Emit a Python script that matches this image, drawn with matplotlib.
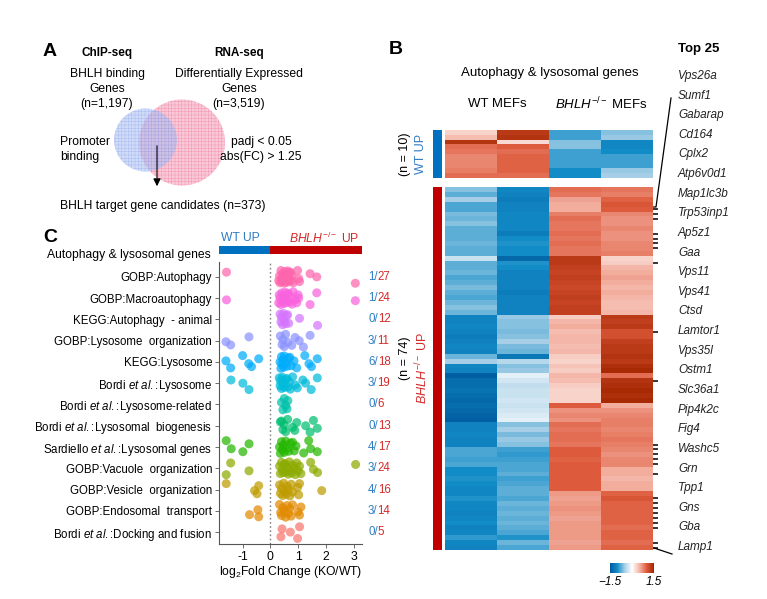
import numpy as np
import matplotlib
matplotlib.use('Agg')
import matplotlib.pyplot as plt
import matplotlib.transforms as mtransforms
from matplotlib.colors import LinearSegmentedColormap
from matplotlib.patches import Circle, Rectangle

plt.rcParams['font.family'] = ['Liberation Sans', 'DejaVu Sans']
plt.rcParams['mathtext.fontset'] = 'custom'
plt.rcParams['mathtext.rm'] = 'Liberation Sans'
plt.rcParams['mathtext.it'] = 'Liberation Sans:italic'
plt.rcParams['mathtext.bf'] = 'Liberation Sans:bold'
plt.rcParams['hatch.linewidth'] = 0.35

# ---------------- DATA ----------------
# Panel C categories (top to bottom)
categories = [
    "GOBP:Autophagy", "GOBP:Macroautophagy", "KEGG:Autophagy  - animal",
    "GOBP:Lysosome  organization", "KEGG:Lysosome", r"Bordi $\mathit{et\ al.}$:Lysosome",
    r"Bordi $\mathit{et\ al.}$:Lysosome-related", r"Bordi $\mathit{et\ al.}$:Lysosomal  biogenesis",
    r"Sardiello $\mathit{et\ al.}$:Lysosomal genes", "GOBP:Vacuole  organization",
    "GOBP:Vesicle  organization", "GOBP:Endosomal  transport",
    r"Bordi $\mathit{et\ al.}$:Docking and fusion",
]
cat_colors = ["#FF65AC", "#F962DD", "#D575FE", "#8B93FF", "#00ACFC", "#00BBDA",
              "#00C1AB", "#00BE70", "#24B700", "#8CAB00", "#BE9C00", "#E18A00", "#F8766D"]

wt_up_lfc = [
    [-1.58],
    [-1.58],
    [],
    [-1.6, -1.43, -0.77],
    [-1.6, -1.43, -1.0, -0.78, -0.68, -0.42],
    [-1.42, -0.99, -0.77],
    [],
    [],
    [-1.59, -1.41, -0.99, -0.77],
    [-1.59, -1.43, -0.77],
    [-1.59, -0.57, -0.48, -0.42],
    [-0.75, -0.45, -0.42],
    [],
]
ko_up_lfc = [
    [0.3, 0.33, 0.35, 0.38, 0.4, 0.42, 0.44, 0.46, 0.5, 0.52, 0.55, 0.58, 0.6, 0.62,
     0.64, 0.66, 0.7, 0.72, 0.75, 0.78, 0.82, 0.98, 1.02, 1.05, 1.43, 1.67, 3.06],
    [0.3, 0.32, 0.35, 0.38, 0.41, 0.44, 0.47, 0.5, 0.53, 0.56, 0.6, 0.62, 0.65, 0.7,
     0.74, 0.78, 0.82, 0.9, 0.95, 1.0, 1.02, 1.43, 1.67, 3.06],
    [0.35, 0.38, 0.4, 0.44, 0.47, 0.5, 0.55, 0.58, 0.62, 0.66, 1.05, 1.7],
    [0.36, 0.42, 0.45, 0.5, 0.55, 0.63, 0.77, 0.89, 1.04, 1.19, 1.43],
    [0.35, 0.38, 0.4, 0.42, 0.45, 0.48, 0.5, 0.55, 0.6, 0.65, 0.7, 0.75, 0.85, 0.95,
     1.24, 1.39, 1.48, 1.69],
    [0.32, 0.35, 0.37, 0.4, 0.43, 0.46, 0.5, 0.55, 0.6, 0.63, 0.68, 0.72, 0.8, 0.9,
     0.97, 1.17, 1.27, 1.47, 1.69],
    [0.4, 0.45, 0.5, 0.55, 0.6, 0.63],
    [0.36, 0.4, 0.45, 0.5, 0.55, 0.62, 0.8, 0.88, 0.95, 1.27, 1.43, 1.55, 1.69],
    [0.33, 0.36, 0.4, 0.43, 0.47, 0.5, 0.55, 0.6, 0.66, 0.72, 0.8, 0.86, 0.92, 1.2,
     1.38, 1.45, 1.69],
    [0.33, 0.36, 0.4, 0.43, 0.46, 0.5, 0.53, 0.56, 0.6, 0.64, 0.68, 0.72, 0.76, 0.8,
     0.85, 0.9, 0.95, 1.0, 1.05, 1.1, 1.45, 1.55, 1.7, 3.07],
    [0.33, 0.36, 0.4, 0.44, 0.48, 0.52, 0.56, 0.6, 0.65, 0.7, 0.75, 0.8, 0.98, 1.02,
     1.05, 1.85],
    [0.33, 0.37, 0.4, 0.45, 0.5, 0.55, 0.6, 0.65, 0.7, 0.75, 0.8, 1.0, 1.05, 1.1],
    [0.38, 0.42, 0.72, 0.98, 1.05],
]
wt_up_counts = [1, 1, 0, 3, 6, 3, 0, 0, 4, 3, 4, 3, 0]
ko_up_counts = [27, 24, 12, 11, 18, 19, 6, 13, 17, 24, 16, 14, 5]
x_ticks = [-1, 0, 1, 2, 3]

# Panel B heatmap (columns: WT1, WT2, KO1, KO2)
heat_wt_up = np.array([
    [0.3, 1.3, -0.85, -0.6],
    [0.45, 1.35, -0.85, -0.55],
    [1.35, 0.25, -0.6, -1.05],
    [0.9, 1.0, -0.6, -1.05],
    [0.85, 0.9, -0.85, -1.0],
    [0.75, 0.95, -0.85, -0.85],
    [0.75, 0.95, -0.85, -0.85],
    [0.75, 0.95, -0.85, -0.85],
    [0.8, 0.95, -1.0, -0.55],
    [0.9, 0.9, -1.0, -0.5],
])
heat_ko_up = np.array([
    [-0.6, -1.05, 0.9, 0.85], [-0.75, -1.1, 0.85, 0.8], [-0.5, -1.15, 0.6, 0.95],
    [-0.8, -1.1, 0.55, 1.05], [-0.8, -1.1, 0.55, 1.0], [-0.65, -1.05, 0.8, 0.75],
    [-0.7, -1.05, 0.9, 0.7], [-0.6, -1.05, 0.85, 0.7], [-0.75, -1.05, 0.85, 0.75],
    [-0.75, -1.15, 0.9, 0.7], [-0.75, -1.0, 0.85, 0.7], [-0.7, -0.95, 0.9, 0.75],
    [-0.75, -1.0, 0.85, 0.75], [-0.75, -1.0, 0.85, 0.8], [-0.3, -1.35, 1.3, 0.3],
    [-0.75, -0.95, 1.3, 0.35], [-0.75, -1.0, 1.25, 0.5], [-0.7, -1.1, 1.2, 0.55],
    [-0.8, -1.1, 1.25, 0.6], [-0.75, -1.1, 1.2, 0.55], [-0.65, -1.1, 1.15, 0.5],
    [-0.75, -1.15, 1.2, 0.55], [-0.8, -1.1, 1.25, 0.5], [-0.7, -1.1, 1.2, 0.45],
    [-0.6, -1.1, 1.25, 0.45], [-0.7, -1.1, 1.25, 0.5], [-1.1, -0.55, 0.35, 1.3],
    [-1.1, -0.6, 0.5, 1.25], [-1.05, -0.6, 0.55, 1.3], [-1.1, -0.65, 0.45, 1.1],
    [-1.15, -0.6, 0.5, 1.1], [-1.1, -0.5, 0.5, 1.25], [-1.05, -0.65, 0.45, 1.3],
    [-1.1, -0.7, 0.5, 1.3], [-0.7, -1.2, 0.35, 1.35], [-0.5, -0.4, 0.3, 1.3],
    [-1.05, -0.6, 0.4, 1.4], [-1.1, -0.55, 0.35, 1.45], [-1.45, -0.15, 0.5, 0.9],
    [-1.3, -0.25, 0.45, 1.35], [-1.3, -0.35, 0.35, 1.4], [-1.25, -0.3, 0.3, 1.45],
    [-1.3, -0.3, 0.3, 1.4], [-1.35, -0.25, 0.3, 1.45], [-1.3, -0.3, 1.0, 0.55],
    [-1.35, -0.25, 0.7, 0.7], [-1.4, -0.2, 0.75, 0.75], [-1.45, -0.15, 0.7, 0.8],
    [-1.1, -0.6, 0.9, 0.8], [-1.1, -0.5, 0.85, 0.75], [-1.05, -0.65, 0.9, 0.8],
    [-1.1, -0.55, 0.9, 0.85], [-1.1, -0.6, 0.85, 0.8], [-0.8, -0.85, 1.0, 0.75],
    [-0.8, -0.9, 1.0, 0.7], [-0.85, -0.85, 0.95, 0.75], [-0.8, -0.8, 1.0, 0.75],
    [-1.0, -0.8, 1.0, 0.55], [-1.0, -0.75, 1.0, 0.55], [-0.95, -0.85, 1.0, 0.5],
    [-1.0, -0.8, 1.0, 0.55], [-1.05, -0.75, 1.0, 0.55], [-1.05, -0.75, 0.65, 0.95],
    [-0.95, -0.8, 0.6, 1.05], [-1.05, -0.7, 0.65, 0.95], [-1.05, -0.75, 0.7, 0.95],
    [-1.1, -0.7, 0.65, 0.95], [-1.05, -0.75, 0.6, 0.95], [-1.0, -0.7, 0.65, 0.95],
    [-1.1, -0.75, 0.65, 0.9], [-1.05, -0.8, 0.65, 0.95], [-0.9, -0.95, 0.65, 0.95],
    [-1.05, -0.7, 0.6, 0.9], [-1.1, -0.8, 0.65, 0.95],
])
top25_genes = ["Vps26a", "Sumf1", "Gabarap", "Cd164", "Cplx2", "Atp6v0d1", "Map1lc3b",
               "Trp53inp1", "Ap5z1", "Gaa", "Vps11", "Vps41", "Ctsd", "Lamtor1", "Vps35l",
               "Ostm1", "Slc36a1", "Pip4k2c", "Fig4", "Washc5", "Grn", "Tpp1", "Gns",
               "Gba", "Lamp1"]
top25_rows = [4, 5, 6, 9, 10, 11, 12, 15, 29, 39, 52, 53, 54, 55, 56, 58, 63, 64, 65,
              66, 67, 68, 69, 72, 73]

# ---------------- STYLE ----------------
BLUE = "#0070c0"
RED = "#c00000"
TXT_BLUE = "#2f7dc4"
TXT_RED = "#d42a2a"
JITTER = [-0.22, 0.18, -0.05, 0.28, -0.3, 0.08, 0.22, -0.15, 0.0, 0.3, -0.25,
          0.12, -0.1, 0.25, -0.28, 0.05, 0.2, -0.18]

W, H = 767, 599
fig = plt.figure(figsize=(W / 100, H / 100), dpi=100)


def px_axes(x0, y0, x1, y1):
    return fig.add_axes([x0 / W, 1 - y1 / H, (x1 - x0) / W, (y1 - y0) / H])


canvas = px_axes(0, 0, W, H)
canvas.set_xlim(0, W)
canvas.set_ylim(H, 0)
canvas.axis('off')

# ---------------- PANEL A ----------------
canvas.text(50, 51, "A", fontsize=14, fontweight='bold', ha='center', va='center')
canvas.text(107, 53, "ChIP-seq", fontsize=8.5, fontweight='bold', ha='center', va='center')
canvas.text(239, 53, "RNA-seq", fontsize=8.5, fontweight='bold', ha='center', va='center')
canvas.text(107, 89, "BHLH binding\nGenes\n(n=1,197)", fontsize=8.7, ha='center',
            va='center', linespacing=1.35)
canvas.text(239, 89, "Differentially Expressed\nGenes\n(n=3,519)", fontsize=8.7,
            ha='center', va='center', linespacing=1.35)
pink = Circle((182, 142.5), 43, facecolor='#f9c0d1', edgecolor='#f48fb0', hatch='+++++',
              lw=0, alpha=0.85)
blue = Circle((145.5, 140), 31.5, facecolor='#aabef3', edgecolor='#8aa4ee', hatch='+++++',
              lw=0, alpha=0.55)
canvas.add_patch(pink)
canvas.add_patch(blue)
canvas.text(60, 149.5, "Promoter\nbinding", fontsize=8.7, ha='left', va='center',
            linespacing=1.3)
canvas.text(261, 149.5, "padj < 0.05\nabs(FC) > 1.25", fontsize=8.7, ha='center',
            va='center', linespacing=1.3)
canvas.annotate('', xy=(157, 189), xytext=(157, 143),
                arrowprops=dict(arrowstyle='-|>', color='black', lw=0.8, mutation_scale=11))
canvas.text(163, 206, "BHLH target gene candidates (n=373)", fontsize=8.7, ha='center',
            va='center')

# ---------------- PANEL C ----------------
canvas.text(50, 238, "C", fontsize=14, fontweight='bold', ha='center', va='center')
axc = px_axes(219, 262, 362, 544)
n_cat = len(categories)
for i in range(n_cat):
    vals = list(wt_up_lfc[i]) + list(ko_up_lfc[i])
    ys = [i + JITTER[(k + 5 * i) % len(JITTER)] for k in range(len(vals))]
    axc.scatter(vals, ys, s=42, color=cat_colors[i], alpha=0.72, edgecolors='none',
                zorder=3)
axc.axvline(0, color='#808080', ls=(0, (1.2, 1.8)), lw=1.0, zorder=1)
axc.set_xlim(-1.85, 3.3)
axc.set_ylim(n_cat - 0.44, -0.7)
axc.set_yticks(range(n_cat))
axc.set_yticklabels(categories, fontsize=8.3)
axc.set_xticks(x_ticks)
axc.set_xticklabels([str(v) for v in x_ticks], fontsize=8.7)
axc.tick_params(axis='both', length=3, width=0.6, pad=2, color='#555555')
for s in ['top', 'right']:
    axc.spines[s].set_visible(False)
for s in ['left', 'bottom']:
    axc.spines[s].set_color('#555555')
    axc.spines[s].set_linewidth(0.8)
axc.set_xlabel("log$_2$Fold Change (KO/WT)", fontsize=8.7, labelpad=1)
axc.patch.set_alpha(0)

bt = mtransforms.blended_transform_factory(axc.transData, axc.transAxes)
xl = axc.get_xlim()
axc.add_patch(Rectangle((xl[0], 1.03), 0 - xl[0], 0.026, transform=bt, color=BLUE,
                        clip_on=False, lw=0))
axc.add_patch(Rectangle((0, 1.03), xl[1], 0.026, transform=bt, color=RED,
                        clip_on=False, lw=0))
axc.text(xl[0] + 0.08, 1.085, "WT UP", transform=bt, color=TXT_BLUE, fontsize=8.7,
         ha='left', va='center')
axc.text(xl[1] - 0.1, 1.085, r"$\mathit{BHLH}^{-/-}$ UP", transform=bt, color=TXT_RED,
         fontsize=8.7, ha='right', va='center')
canvas.text(211, 255, "Autophagy & lysosomal genes", fontsize=8.7, ha='right',
            va='center')

ct = mtransforms.blended_transform_factory(axc.transAxes, axc.transData)
for i in range(n_cat):
    t1 = axc.text(1.042, i, f"{wt_up_counts[i]}/", transform=ct, color=TXT_BLUE,
                  fontsize=8.3, ha='left', va='center')
    axc.annotate(str(ko_up_counts[i]), xy=(1, 0.5), xycoords=t1, color=TXT_RED,
                 fontsize=8.3, ha='left', va='center')

# ---------------- PANEL B ----------------
canvas.text(396, 50, "B", fontsize=14, fontweight='bold', ha='center', va='center')
canvas.text(678, 49, "Top 25", fontsize=9.5, fontweight='bold', ha='left', va='center')
canvas.text(550, 73, "Autophagy & lysosomal genes", fontsize=9.5, ha='center',
            va='center')
canvas.text(497, 104, "WT MEFs", fontsize=9.5, ha='center', va='center')
canvas.text(601, 104, r"$\mathit{BHLH}^{-/-}$ MEFs", fontsize=9.5, ha='center',
            va='center')

cmap = LinearSegmentedColormap.from_list(
    "bwr_custom", ['#005a9e', '#138dc8', '#a6cfe7', '#ffffff', '#f4b6a8', '#df5b3d',
                   '#a32500'])
ax_top = px_axes(445, 130, 653, 178)
ax_top.imshow(heat_wt_up, aspect='auto', cmap=cmap, vmin=-1.5, vmax=1.5,
              interpolation='nearest')
ax_top.axis('off')
ax_bot = px_axes(445, 187, 653, 550)
im = ax_bot.imshow(heat_ko_up, aspect='auto', cmap=cmap, vmin=-1.5, vmax=1.5,
                   interpolation='nearest')
ax_bot.axis('off')

tt = mtransforms.blended_transform_factory(ax_bot.transAxes, ax_bot.transData)
for r in top25_rows:
    ax_bot.plot([1.0, 1.022], [r, r], color='black', lw=1.1, transform=tt,
                clip_on=False, solid_capstyle='butt')

# side bars
canvas.add_patch(Rectangle((433, 130), 9, 48, color=BLUE, lw=0))
canvas.add_patch(Rectangle((433, 187), 9, 363, color=RED, lw=0))
canvas.text(405, 154, "(n = 10)", rotation=90, fontsize=9, ha='center', va='center')
canvas.text(421, 154, "WT UP", rotation=90, fontsize=9, ha='center', va='center',
            color=TXT_BLUE)
canvas.text(405, 358, "(n = 74)", rotation=90, fontsize=9, ha='center', va='center')
canvas.text(422, 368, r"$\mathit{BHLH}^{-/-}$ UP", rotation=90, fontsize=9,
            ha='center', va='center', color=TXT_RED)

# gene labels
for k, g in enumerate(top25_genes):
    canvas.text(678, 76 + 19.625 * k, g, fontsize=8.5, style='italic', ha='left',
                va='center', color='#222222')
canvas.plot([671, 656, 653], [98, 207, 207], color='black', lw=0.9)
canvas.plot([654, 672], [548, 554], color='black', lw=0.9)

# colorbar
cax = px_axes(610, 563, 654, 573)
cb = fig.colorbar(im, cax=cax, orientation='horizontal', ticks=[-1.5, 1.5])
cb.outline.set_visible(False)
cb.ax.tick_params(length=0, labelsize=8.5, pad=2)
for lab in cb.ax.get_xticklabels():
    lab.set_style('italic')

fig.savefig("out.png", dpi=100)
